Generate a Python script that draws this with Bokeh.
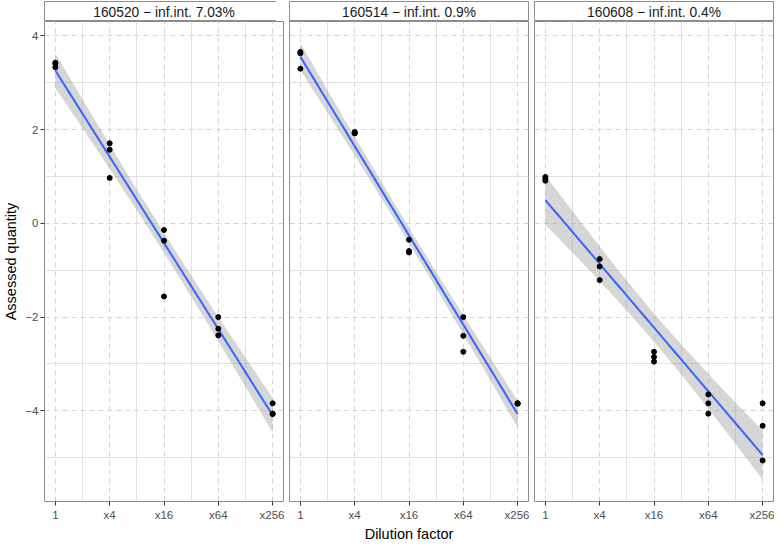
import math
import numpy as np
from bokeh.plotting import figure
from bokeh.layouts import row, column
from bokeh.models import FixedTicker, Range1d, ColumnDataSource
from bokeh.core.properties import value
from bokeh.embed import file_html
from bokeh.resources import INLINE

# ---------------- data ----------------
facet_titles = ["160520 \u2212 inf.int. 7.03%", "160514 \u2212 inf.int. 0.9%", "160608 \u2212 inf.int. 0.4%"]
x_tick_values = [0, 1, 2, 3, 4]
x_tick_labels = ["1", "x4", "x16", "x64", "x256"]
x_minor_values = [0.5, 1.5, 2.5, 3.5]
y_tick_values = [-4, -2, 0, 2, 4]
y_tick_labels = ["\u22124", "\u22122", "0", "2", "4"]
y_minor_values = [-5, -3, -1, 1, 3]

dilution_step = [0, 0, 0, 1, 1, 1, 2, 2, 2, 3, 3, 3, 4, 4, 4]
qty_160520 = [3.43, 3.41, 3.33, 1.71, 1.57, 0.97, -0.14, -0.37, -1.56, -2.00, -2.25, -2.39, -3.84, -4.06, -4.07]
qty_160514 = [3.66, 3.63, 3.30, 1.95, 1.93, 1.92, -0.35, -0.59, -0.62, -2.00, -2.40, -2.74, -3.84, -3.85, -3.84]
qty_160608 = [0.99, 0.95, 0.91, -0.76, -0.92, -1.21, -2.74, -2.85, -2.95, -3.65, -3.84, -4.06, -3.84, -4.32, -5.06]
series = [qty_160520, qty_160514, qty_160608]

FONT = "Liberation Sans"


def t_quantile(p, df):
    xs = np.linspace(0, 30, 300001)
    c = math.exp(math.lgamma((df + 1) / 2) - math.lgamma(df / 2)) / math.sqrt(df * math.pi)
    pdf = c * (1 + xs ** 2 / df) ** (-(df + 1) / 2)
    cdf = 0.5 + np.concatenate([[0.0], np.cumsum((pdf[1:] + pdf[:-1]) / 2 * np.diff(xs))])
    return float(np.interp(p, cdf, xs))


def lm_fit(x, y, grid):
    x = np.asarray(x, float)
    y = np.asarray(y, float)
    n = len(x)
    xb = x.mean()
    sxx = ((x - xb) ** 2).sum()
    b = ((x - xb) * (y - y.mean())).sum() / sxx
    a = y.mean() - b * xb
    res = y - (a + b * x)
    s = math.sqrt((res ** 2).sum() / (n - 2))
    yhat = a + b * grid
    se = s * np.sqrt(1.0 / n + (grid - xb) ** 2 / sxx)
    t = t_quantile(0.975, n - 2)
    return yhat, yhat - t * se, yhat + t * se


grid_x = np.linspace(min(dilution_step), max(dilution_step), 80)
fits = [lm_fit(dilution_step, s, grid_x) for s in series]

all_lo = min(min(min(s) for s in series), min(f[1].min() for f in fits))
all_hi = max(max(max(s) for s in series), max(f[2].max() for f in fits))
span = all_hi - all_lo
y_lo, y_hi = all_lo - 0.05 * span, all_hi + 0.05 * span
x_span = max(dilution_step) - min(dilution_step)
x_lo, x_hi = min(dilution_step) - 0.05 * x_span, max(dilution_step) + 0.05 * x_span

FW = 239
FH = 480
LEFT = 36
BORDER = "#8c8c8c"

cols = []
for i, (title, ys, (yhat, lo, hi)) in enumerate(zip(facet_titles, series, fits)):
    left_border = LEFT if i == 0 else 0

    # strip
    st = figure(frame_width=FW, frame_height=20, x_range=Range1d(0, 1), y_range=Range1d(0, 1),
                x_axis_location=None, y_axis_location=None, output_backend="svg",
                toolbar_location=None, min_border_left=left_border, min_border_right=1,
                min_border_top=1, min_border_bottom=0)
    st.xgrid.visible = False
    st.ygrid.visible = False
    st.outline_line_color = BORDER
    st.outline_line_width = 1
    st.background_fill_color = "white"
    st.text(x=[0.5], y=[0.45], text=[title], text_align="center", text_baseline="middle",
            text_font=value(FONT), text_font_size="13.8px", text_color="#1a1a1a")

    p = figure(frame_width=FW, frame_height=FH, x_range=Range1d(x_lo, x_hi), y_range=Range1d(y_lo, y_hi),
               output_backend="svg", toolbar_location=None,
               y_axis_location="left" if i == 0 else None,
               min_border_left=left_border, min_border_right=1, min_border_top=0, min_border_bottom=40)
    p.outline_line_color = BORDER
    p.outline_line_width = 1
    p.background_fill_color = "white"

    p.xaxis.ticker = FixedTicker(ticks=x_tick_values, minor_ticks=x_minor_values)
    p.xaxis.major_label_overrides = {v: l for v, l in zip(x_tick_values, x_tick_labels)}
    if i == 1:
        p.xaxis.axis_label = "Dilution factor"
    p.xaxis.axis_label_text_font = FONT
    p.xaxis.axis_label_text_font_size = "14.5px"
    p.xaxis.axis_label_text_font_style = "normal"
    p.xaxis.axis_label_text_color = "black"
    p.xaxis.axis_label_standoff = 2
    p.xaxis.major_label_text_font = FONT
    p.xaxis.major_label_text_font_size = "11.5px"
    p.xaxis.major_label_text_color = "#4d4d4d"
    p.xaxis.major_label_standoff = 3
    p.xaxis.axis_line_color = None
    p.xaxis.major_tick_in = 0
    p.xaxis.major_tick_out = 4
    p.xaxis.major_tick_line_color = "#333333"
    p.xaxis.minor_tick_in = 0
    p.xaxis.minor_tick_out = 0

    if i == 0:
        p.yaxis.ticker = FixedTicker(ticks=y_tick_values, minor_ticks=y_minor_values)
        p.yaxis.major_label_overrides = {v: l for v, l in zip(y_tick_values, y_tick_labels)}
        p.yaxis.axis_label = "Assessed quantity"
        p.yaxis.axis_label_text_font = FONT
        p.yaxis.axis_label_text_font_size = "14.5px"
        p.yaxis.axis_label_text_font_style = "normal"
        p.yaxis.axis_label_text_color = "black"
        p.yaxis.axis_label_standoff = 3
        p.yaxis.major_label_text_font = FONT
        p.yaxis.major_label_text_font_size = "11.5px"
        p.yaxis.major_label_text_color = "#4d4d4d"
        p.yaxis.major_label_standoff = 2
        p.yaxis.axis_line_color = None
        p.yaxis.major_tick_in = 0
        p.yaxis.major_tick_out = 4
        p.yaxis.major_tick_line_color = "#333333"
        p.yaxis.minor_tick_in = 0
        p.yaxis.minor_tick_out = 0

    p.xgrid.ticker = FixedTicker(ticks=x_tick_values, minor_ticks=x_minor_values)
    p.ygrid.ticker = FixedTicker(ticks=y_tick_values, minor_ticks=y_minor_values)
    for g in (p.xgrid, p.ygrid):
        g.grid_line_color = "#d4d4d4"
        g.grid_line_dash = "5 4"
        g.grid_line_width = 1
        g.minor_grid_line_color = "#e0e0e0"
        g.minor_grid_line_width = 1

    src = ColumnDataSource(dict(x=grid_x, lo=lo, hi=hi, yhat=yhat))
    p.varea(x="x", y1="lo", y2="hi", source=src, fill_color="#999999", fill_alpha=0.4)
    p.line(x="x", y="yhat", source=src, line_color="#3366FF", line_width=2)
    p.scatter(x=dilution_step, y=ys, size=5, fill_color="black", line_color="black")

    cols.append(column(st, p, spacing=0))

layout = row(*cols, spacing=5)

open("out.html", "w").write(file_html(layout, INLINE))
